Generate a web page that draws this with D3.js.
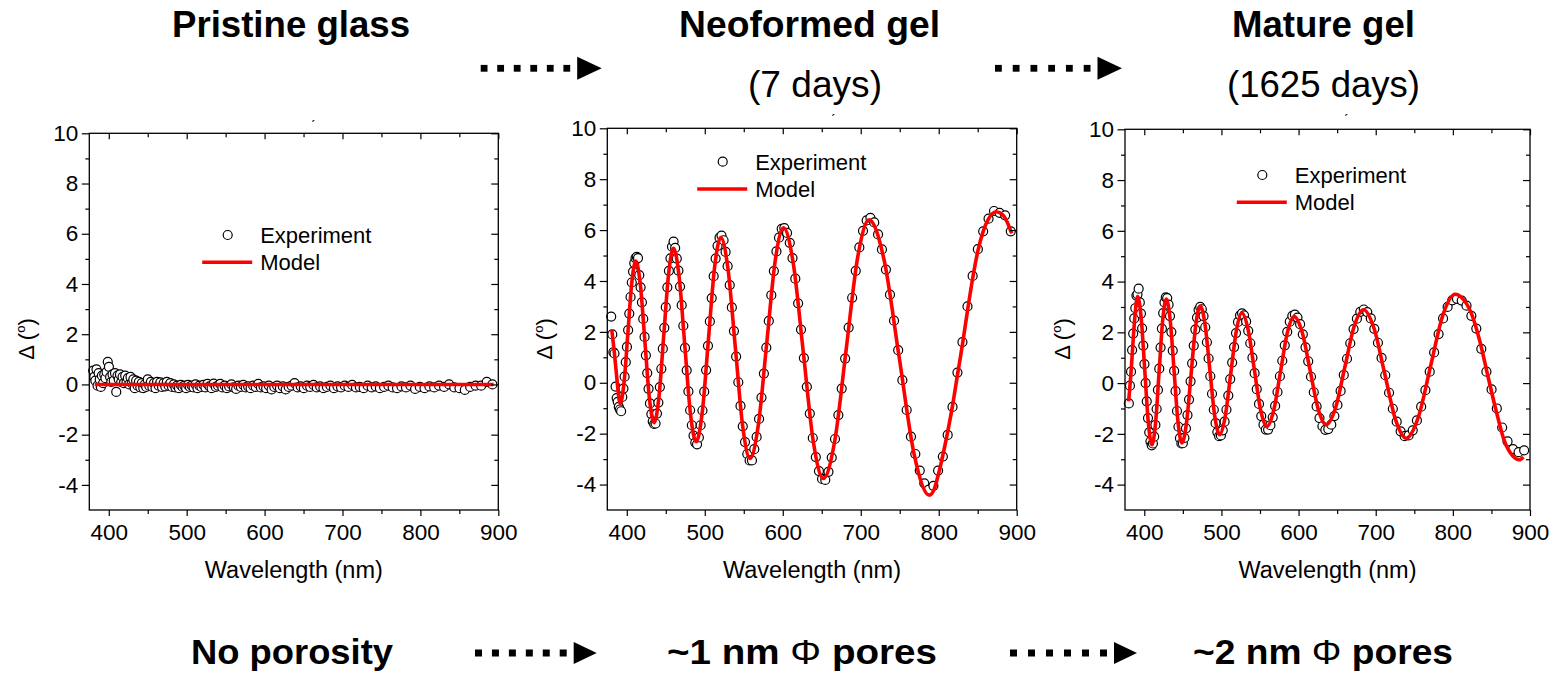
<!DOCTYPE html>
<html>
<head>
<meta charset="utf-8">
<script src="https://cdn.jsdelivr.net/npm/d3@7"></script>
<style>
  html, body { margin: 0; padding: 0; background: #fff; }
  svg { display: block; font-family: "Liberation Sans", Arial, Helvetica, sans-serif; }
</style>
</head>
<body>
<svg id="chart" width="1557" height="676"></svg>
<script>
// Ellipsometric Δ spectra: wavelength grid shared by the three measurements (nm)
const expWavelength = [
  380.0, 381.4, 382.8, 384.2, 385.6, 387.0, 388.4, 389.8, 391.2, 392.7,
  394.2, 395.7, 397.2, 398.7, 400.2, 401.7, 403.2, 404.8, 406.4, 408.0,
  409.6, 411.2, 412.8, 414.4, 416.0, 417.7, 419.4, 421.1, 422.8, 424.5,
  426.2, 427.9, 429.7, 431.5, 433.3, 435.1, 436.9, 438.7, 440.5, 442.4,
  444.3, 446.2, 448.1, 450.0, 452.0, 454.0, 456.0, 458.0, 460.0, 462.0,
  464.1, 466.2, 468.3, 470.4, 472.5, 474.6, 476.8, 479.0, 481.2, 483.4,
  485.6, 487.8, 490.1, 492.4, 494.7, 497.0, 499.3, 501.7, 504.1, 506.5,
  508.9, 511.4, 513.9, 516.4, 518.9, 521.5, 524.1, 526.7, 529.3, 532.0,
  534.7, 537.4, 540.2, 543.0, 545.8, 548.7, 551.6, 554.5, 557.5, 560.5,
  563.5, 566.5, 569.6, 572.7, 575.8, 578.9, 582.1, 585.3, 588.6, 591.9,
  595.2, 598.6, 602.0, 605.5, 609.0, 612.5, 616.1, 619.7, 623.4, 627.1,
  630.9, 634.7, 638.5, 642.4, 646.4, 650.4, 654.5, 658.6, 662.8, 667.0,
  671.3, 675.6, 680.0, 684.5, 689.0, 693.6, 698.2, 702.9, 707.6, 712.4,
  717.3, 722.2, 727.2, 732.3, 737.5, 742.7, 748.0, 753.4, 758.9, 764.4,
  770.0, 775.7, 781.5, 787.3, 793.2, 799.2, 805.3, 811.5, 817.7, 824.0,
  830.4, 836.9, 843.5, 850.2, 857.0, 863.9, 870.9, 878.0, 885.2, 892.4
];

// Measured Δ (degrees) — pristine glass
const pristineExp = [
  0.55, 0.30, 0.15, 0.60, -0.05, 0.45, 0.20, -0.10, 0.35, 0.05,
  0.40, 0.25, 0.50, 0.90, 0.70, 0.30, 0.10, 0.40, 0.15, 0.45,
  -0.30, 0.35, 0.20, 0.40, 0.10, 0.30, 0.05, 0.35, 0.10, 0.25,
  0.00, 0.30, 0.05, 0.20, -0.15, 0.15, -0.05, 0.10, -0.12, 0.05,
  -0.15, 0.00, -0.10, 0.20, -0.05, 0.10, -0.10, 0.05, -0.15, 0.10,
  -0.05, 0.08, -0.10, 0.05, -0.08, 0.10, -0.05, 0.05, -0.10, 0.00,
  -0.12, -0.05, -0.15, -0.02, -0.10, -0.05, -0.15, -0.02, -0.10, -0.05,
  -0.12, 0.00, -0.15, -0.05, -0.10, -0.02, -0.12, 0.02, -0.08, -0.15,
  0.03, -0.10, -0.05, 0.02, -0.12, -0.05, -0.15, -0.08, 0.00, -0.12,
  -0.18, -0.05, -0.10, -0.02, -0.12, -0.08, -0.15, -0.05, -0.10, 0.02,
  -0.12, -0.08, -0.15, -0.05, -0.20, -0.10, -0.05, -0.15, -0.08, -0.20,
  -0.10, -0.05, 0.05, -0.12, -0.08, -0.15, -0.05, -0.10, -0.02, -0.12,
  -0.08, -0.15, -0.10, -0.05, -0.15, -0.08, -0.12, -0.05, -0.10, -0.02,
  -0.12, -0.10, -0.15, -0.05, -0.12, -0.08, -0.15, -0.10, -0.05, -0.12,
  -0.15, -0.08, -0.12, -0.05, -0.18, -0.10, -0.15, -0.08, -0.12, -0.05,
  -0.10, 0.00, -0.12, -0.15, -0.22, -0.10, -0.05, -0.05, 0.10, 0.00
];

// Measured Δ (degrees) — neoformed gel, 7 days
const neoformedExp = [
  2.60, 1.90, 1.20, 1.15, -0.15, -0.60, -0.75, -0.95, -1.05, -1.12,
  -0.56, -0.23, 0.24, 0.81, 1.41, 2.07, 2.72, 3.37, 3.94, 4.37,
  4.70, 4.90, 4.95, 4.90, 4.23, 3.75, 3.16, 2.51, 1.80, 1.08,
  0.38, -0.24, -0.81, -1.23, -1.52, -1.62, -1.60, -1.21, -0.78, -0.17,
  0.55, 1.34, 2.16, 2.97, 3.75, 4.40, 4.89, 5.35, 5.55, 5.30,
  4.88, 4.41, 3.78, 3.05, 2.24, 1.37, 0.49, -0.34, -1.08, -1.67,
  -2.08, -2.35, -2.42, -2.15, -1.67, -1.09, -0.35, 0.50, 1.45, 2.41,
  3.33, 4.19, 4.88, 5.38, 5.70, 5.78, 5.60, 5.14, 4.58, 3.84,
  2.96, 2.03, 1.03, 0.02, -0.91, -1.71, -2.33, -2.80, -3.05, -3.05,
  -2.61, -2.13, -1.42, -0.58, 0.36, 1.38, 2.43, 3.44, 4.39, 5.16,
  5.70, 6.05, 6.08, 5.89, 5.50, 4.90, 4.09, 3.12, 2.09, 0.97,
  -0.16, -1.21, -2.17, -2.92, -3.47, -3.78, -3.82, -3.50, -2.94, -2.21,
  -1.27, -0.23, 0.95, 2.17, 3.34, 4.40, 5.32, 5.97, 6.38, 6.48,
  6.30, 5.83, 5.24, 4.45, 3.46, 2.44, 1.28, 0.10, -1.07, -2.12,
  -2.80, -3.45, -3.95, -4.20, -4.05, -3.45, -2.90, -2.05, -0.95, 0.40,
  1.60, 3.00, 4.20, 5.25, 5.95, 6.45, 6.75, 6.68, 6.58, 5.95
];

// Measured Δ (degrees) — mature gel, 1625 days
const matureExp = [
  -0.80, -0.10, 0.45, 1.30, 1.95, 2.55, 2.95, 3.45, 3.50, 3.72,
  3.18, 2.74, 2.16, 1.48, 0.75, 0.00, -0.72, -1.38, -1.94, -2.30,
  -2.45, -2.38, -2.11, -1.65, -1.02, -0.27, 0.57, 1.40, 2.15, 2.76,
  3.18, 3.38, 3.35, 3.09, 2.64, 2.01, 1.28, 0.48, -0.32, -1.10,
  -1.72, -2.17, -2.38, -2.37, -2.16, -1.78, -1.26, -0.65, 0.07, 0.78,
  1.48, 2.11, 2.58, 2.89, 3.00, 2.91, 2.64, 2.20, 1.61, 0.97,
  0.27, -0.42, -1.05, -1.58, -1.93, -2.09, -2.06, -1.86, -1.52, -1.05,
  -0.49, 0.16, 0.81, 1.42, 1.97, 2.41, 2.67, 2.75, 2.67, 2.43,
  2.06, 1.57, 1.00, 0.39, -0.24, -0.82, -1.30, -1.64, -1.83, -1.83,
  -1.66, -1.35, -0.90, -0.35, 0.27, 0.88, 1.49, 2.02, 2.42, 2.65,
  2.70, 2.58, 2.32, 1.92, 1.41, 0.86, 0.25, -0.36, -0.92, -1.38,
  -1.70, -1.84, -1.81, -1.64, -1.30, -0.86, -0.31, 0.32, 0.96, 1.57,
  2.13, 2.54, 2.81, 2.90, 2.80, 2.55, 2.14, 1.59, 0.99, 0.31,
  -0.38, -1.01, -1.52, -1.90, -2.09, -2.06, -1.86, -1.47, -0.93, -0.28,
  0.45, 1.21, 1.93, 2.55, 3.00, 3.26, 3.32, 3.25, 3.05, 2.65,
  2.15, 1.35, 0.45, -0.25, -1.00, -1.75, -2.30, -2.60, -2.72, -2.65
];

// Fitted optical model curves (wavelength nm, Δ degrees)
const pristineModelWl = [382, 640, 894];
const pristineModel   = [0.0, 0.0, 0.0];

const neoformedModelWl = [
  380.8, 384, 387, 389.5, 391.5, 396.5, 401.5, 406.5, 411.5, 417.4, 423.25, 429.1, 435,
  441.2, 447.4, 453.6, 459.8, 467.1, 474.35, 481.6, 488.9, 496.8, 504.7, 512.6, 520.5,
  529.9, 539.25, 548.6, 558, 568.7, 579.45, 590.2, 600.9, 613.7, 626.45, 639.2, 652,
  666.7, 681.35, 696, 710.7, 730, 749.35, 768.7, 788, 794, 800, 806, 812, 818, 824,
  830.4, 837, 843.5, 850, 857, 864, 874, 882, 888, 893.6
];
const neoformedModel = [
  2.07, 1.2, 0.25, -0.5, -0.81, 0.01, 1.99, 3.96, 4.78, 3.85, 1.61, -0.64, -1.57,
  -0.57, 1.86, 4.28, 5.28, 4.17, 1.48, -1.21, -2.32, -1.15, 1.70, 4.54, 5.71,
  4.44, 1.37, -1.70, -2.97, -1.65, 1.56, 4.77, 6.09, 4.65, 1.17, -2.32, -3.76,
  -2.28, 1.32, 4.92, 6.40, 4.82, 0.99, -2.84, -4.42, -4.2, -3.55, -2.75, -1.85, -0.85, 0.3,
  1.5, 2.85, 4.1, 5.15, 5.95, 6.45, 6.72, 6.6, 6.3, 5.87
];

const matureModelWl = [
  379.7, 383, 386, 389, 391.4, 396.0, 400.65, 405.3, 409.9, 414.55, 419.2, 423.85, 428.5,
  433.6, 438.65, 443.7, 448.8, 454.7, 460.65, 466.6, 472.5, 478.8, 485.05, 491.3, 497.6,
  504.8, 512.05, 519.3, 526.5, 534.6, 542.7, 550.8, 558.9, 567.75, 576.6, 585.45, 594.3,
  604.7, 615.05, 625.4, 635.8, 647.9, 659.95, 672, 684.1, 697.9, 711.75, 725.6, 739.4,
  755.25, 771.1, 786.95, 802.8, 813, 824, 835, 846, 857, 867, 877, 886.2, 891.4
];
const matureModel = [
  -0.72, 0.5, 1.9, 3.0, 3.41, 2.56, 0.49, -1.58, -2.43, -1.59, 0.44, 2.47, 3.31,
  2.48, 0.475, -1.53, -2.36, -1.57, 0.34, 2.25, 3.04, 2.30, 0.505, -1.29, -2.03,
  -1.33, 0.365, 2.06, 2.76, 2.11, 0.525, -1.06, -1.71, -1.08, 0.455, 1.99, 2.62,
  2.0, 0.49, -1.02, -1.64, -0.98, 0.625, 2.23, 2.89, 2.15, 0.36, -1.43, -2.17,
  -1.34, 0.665, 2.67, 3.50, 3.32, 2.75, 1.65, 0.2, -1.2, -2.3, -2.85, -3.02, -2.91
];

// Axis ticks and labels
const xMajorTicks = [400, 500, 600, 700, 800, 900];
const xMinorTicks = [450, 550, 650, 750, 850];
const yMajorTicks = [-4, -2, 0, 2, 4, 6, 8, 10];
const yMinorTicks = [-3, -1, 1, 3, 5, 7, 9];
const legendLabels = ["Experiment", "Model"];
const xAxisTitle = "Wavelength (nm)";

// Stage annotations
const stageTitles = ["Pristine glass", "Neoformed gel", "Mature gel"];
const stageAges = ["(7 days)", "(1625 days)"];
const poreLabels = ["No porosity", "~1 nm Φ pores", "~2 nm Φ pores"];

const FONT = '"Liberation Sans", Arial, Helvetica, sans-serif';
const svg = d3.select("#chart");
svg.append("rect").attr("width", 1557).attr("height", 676).attr("fill", "#fff");

const panels = [
  { left: 89.3, right: 498.3, top: 133.3, bottom: 510, exp: pristineExp,
    modelWl: pristineModelWl, model: pristineModel, legend: [227.7, 235], mark: [313, 131] },
  { left: 607.3, right: 1016.7, top: 128.3, bottom: 510, exp: neoformedExp,
    modelWl: neoformedModelWl, model: neoformedModel, legend: [722.7, 161.7], mark: [833, 125] },
  { left: 1125, right: 1530, top: 129.3, bottom: 510, exp: matureExp,
    modelWl: matureModelWl, model: matureModel, legend: [1262.3, 175], mark: [1346, 125] }
];

function styleAxis(g, fontSize) {
  g.attr("font-family", FONT).attr("font-size", fontSize);
  g.selectAll(".domain").remove();
  g.selectAll("line").attr("stroke", "#000").attr("stroke-width", 1.2);
  g.selectAll("text").attr("fill", "#000");
}

function drawPanel(p) {
  const x = d3.scaleLinear().domain([375, 900]).range([p.left, p.right]);
  const y = d3.scaleLinear().domain([-5, 10]).range([p.bottom, p.top]);
  const g = svg.append("g");

  // experimental points
  const pts = expWavelength.map((w, i) => ({ w, v: p.exp[i] }));
  g.append("g").selectAll("circle").data(pts).join("circle")
    .attr("cx", d => x(d.w)).attr("cy", d => y(d.v)).attr("r", 4.5)
    .attr("fill", "#fff").attr("stroke", "#000").attr("stroke-width", 1.2);

  // model curve
  const line = d3.line().x(d => x(d[0])).y(d => y(d[1])).curve(d3.curveMonotoneX);
  g.append("path").datum(p.modelWl.map((w, i) => [w, p.model[i]]))
    .attr("d", line).attr("fill", "none").attr("stroke", "#ff0000")
    .attr("stroke-width", 3.6).attr("stroke-linejoin", "round");

  // axes: labelled majors outside bottom/left, inward ticks top/right
  const fs = 22.5;
  const bMaj = g.append("g").attr("transform", `translate(0,${p.bottom})`)
    .call(d3.axisBottom(x).tickValues(xMajorTicks).tickSizeInner(6).tickSizeOuter(0).tickPadding(8).tickFormat(d3.format("d")));
  styleAxis(bMaj, fs);
  const bMin = g.append("g").attr("transform", `translate(0,${p.bottom})`)
    .call(d3.axisBottom(x).tickValues(xMinorTicks).tickSizeInner(4).tickSizeOuter(0).tickFormat(""));
  styleAxis(bMin, fs);
  const tMaj = g.append("g").attr("transform", `translate(0,${p.top})`)
    .call(d3.axisTop(x).tickValues(xMajorTicks).tickSizeInner(-6).tickSizeOuter(0).tickFormat(""));
  styleAxis(tMaj, fs);
  const tMin = g.append("g").attr("transform", `translate(0,${p.top})`)
    .call(d3.axisTop(x).tickValues(xMinorTicks).tickSizeInner(-4).tickSizeOuter(0).tickFormat(""));
  styleAxis(tMin, fs);

  const lMaj = g.append("g").attr("transform", `translate(${p.left},0)`)
    .call(d3.axisLeft(y).tickValues(yMajorTicks).tickSizeInner(7.5).tickSizeOuter(0).tickPadding(3.5).tickFormat(d => String(d)));
  styleAxis(lMaj, fs);
  const lMin = g.append("g").attr("transform", `translate(${p.left},0)`)
    .call(d3.axisLeft(y).tickValues(yMinorTicks).tickSizeInner(4).tickSizeOuter(0).tickFormat(""));
  styleAxis(lMin, fs);
  const rMaj = g.append("g").attr("transform", `translate(${p.right},0)`)
    .call(d3.axisRight(y).tickValues(yMajorTicks).tickSizeInner(-7).tickSizeOuter(0).tickFormat(""));
  styleAxis(rMaj, fs);
  const rMin = g.append("g").attr("transform", `translate(${p.right},0)`)
    .call(d3.axisRight(y).tickValues(yMinorTicks).tickSizeInner(-4).tickSizeOuter(0).tickFormat(""));
  styleAxis(rMin, fs);

  // frame
  g.append("rect").attr("x", p.left).attr("y", p.top)
    .attr("width", p.right - p.left).attr("height", p.bottom - p.top)
    .attr("fill", "none").attr("stroke", "#000").attr("stroke-width", 1.3);

  // axis titles
  g.append("text").attr("x", (p.left + p.right) / 2).attr("y", 578)
    .attr("text-anchor", "middle").attr("font-size", 23.5).attr("fill", "#000")
    .text(xAxisTitle);
  const yt = g.append("text")
    .attr("transform", `translate(${p.left - 55},339) rotate(-90)`)
    .attr("text-anchor", "middle").attr("font-size", 22).attr("fill", "#000");
  yt.append("tspan").text("Δ (");
  yt.append("tspan").attr("font-size", 13).attr("dy", -9).text("o");
  yt.append("tspan").attr("font-size", 22).attr("dy", 9).text(")");

  // small mark above the frame
  g.append("text").attr("x", p.mark[0]).attr("y", p.mark[1]).attr("text-anchor", "middle")
    .attr("font-size", 14).attr("fill", "#000").text("ˊ");

  // legend
  const [cx, cy] = p.legend;
  g.append("circle").attr("cx", cx).attr("cy", cy).attr("r", 4.5)
    .attr("fill", "#fff").attr("stroke", "#000").attr("stroke-width", 1.2);
  g.append("line").attr("x1", cx - 25.5).attr("x2", cx + 24.5)
    .attr("y1", cy + 27.3).attr("y2", cy + 27.3)
    .attr("stroke", "#ff0000").attr("stroke-width", 3.6);
  g.append("text").attr("x", cx + 32.5).attr("y", cy + 8.3).attr("font-size", 22)
    .attr("fill", "#000").text(legendLabels[0]);
  g.append("text").attr("x", cx + 32.5).attr("y", cy + 35).attr("font-size", 22)
    .attr("fill", "#000").text(legendLabels[1]);
}

panels.forEach(drawPanel);

// Text fitted into a horizontal span; "Φ" is set in regular weight
function fittedText(str, x0, x1, baseline, size, weight) {
  const t = svg.append("text").attr("x", x0).attr("y", baseline)
    .attr("font-size", size).attr("font-weight", weight).attr("fill", "#000")
    .attr("textLength", x1 - x0).attr("lengthAdjust", "spacingAndGlyphs");
  const parts = str.split("Φ");
  parts.forEach((s, i) => {
    if (i > 0) t.append("tspan").attr("font-weight", "normal").text("Φ");
    if (s) t.append("tspan").text(s);
  });
}

// stage headings
fittedText(stageTitles[0], 172, 410, 37, 36, "bold");
fittedText(stageTitles[1], 679, 940, 37, 36, "bold");
fittedText(stageTitles[2], 1232, 1415, 37, 36, "bold");
fittedText(stageAges[0], 748, 882, 97, 36, "normal");
fittedText(stageAges[1], 1227, 1420, 97, 36, "normal");

// pore-size captions
fittedText(poreLabels[0], 191, 393, 664, 35, "bold");
fittedText(poreLabels[1], 667, 937, 664, 35, "bold");
fittedText(poreLabels[2], 1193, 1453, 664, 35, "bold");

// dotted arrows: six squares followed by a solid head
function dottedArrow(x0, tip, yc, sq, headW, headH) {
  const headStart = tip - headW;
  const lastEnd = headStart - 7;
  const step = (lastEnd - sq - x0) / 5;
  const xs = d3.range(6).map(i => x0 + i * step);
  svg.append("g").selectAll("rect").data(xs).join("rect")
    .attr("x", d => d).attr("y", yc - sq / 2).attr("width", sq).attr("height", sq).attr("fill", "#000");
  svg.append("path")
    .attr("d", `M${headStart},${yc - headH / 2}L${tip},${yc}L${headStart},${yc + headH / 2}Z`)
    .attr("fill", "#000");
}
dottedArrow(480.7, 601.7, 68.3, 6.8, 24.5, 23);
dottedArrow(995, 1122, 68.3, 6.8, 24.5, 23);
dottedArrow(475, 596.7, 653, 7, 23, 22);
dottedArrow(1010, 1137, 653, 7, 23, 22);
</script>
</body>
</html>
